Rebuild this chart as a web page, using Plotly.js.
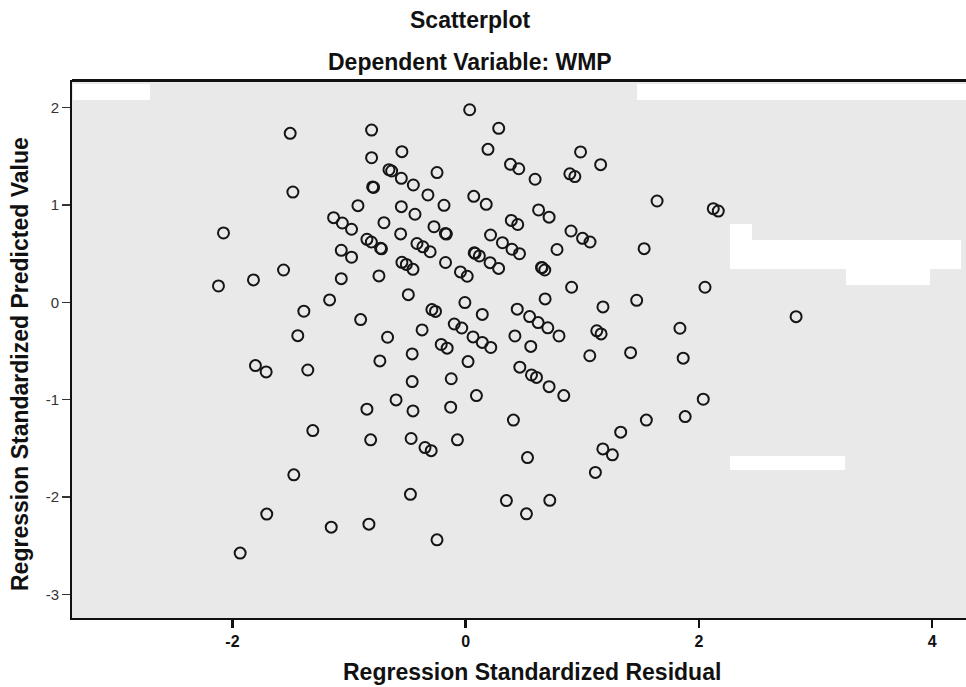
<!DOCTYPE html>
<html>
<head>
<meta charset="utf-8">
<script src="https://cdn.plot.ly/plotly-3.0.1.min.js"></script>
<style>html,body{margin:0;padding:0;background:#fff;}#chart{width:966px;height:687px;}</style>
</head>
<body>
<div id="chart"></div>
<script>
// Regression Standardized Residual (x) and Regression Standardized Predicted Value (y)
const residual = [
  -2.077,-2.120,-1.820,-1.562,-1.505,-1.482,-1.388,-1.440,-1.354,-1.803,-1.711,-1.311,-1.474,-1.706,-1.934,-1.167,-1.153,
  -0.807,-0.807,-0.658,-0.635,-0.547,-0.552,-0.798,-0.790,-0.924,-1.133,-1.058,-0.979,-0.701,-0.552,-0.558,-0.847,-0.809,
  -0.730,-0.722,-1.067,-0.979,-0.547,-0.509,-0.452,-1.067,-0.744,-0.492,-0.901,
  0.034,0.283,0.191,0.384,0.455,0.595,-0.246,-0.449,-0.324,-0.186,0.069,0.176,-0.435,-0.272,-0.174,-0.166,-0.418,-0.367,
  -0.305,0.213,0.315,0.391,0.446,0.397,0.461,0.073,0.080,0.117,0.209,0.282,-0.173,-0.045,0.013,-0.007,-0.290,-0.259,
  0.142,0.442,0.548,0.621,0.704,0.800,-0.098,-0.034,-0.374,
  0.985,1.157,0.893,0.936,1.641,0.625,0.715,0.903,1.002,1.066,0.783,1.530,0.650,0.655,0.678,0.908,0.681,1.466,1.177,
  2.123,2.166,2.052,1.837,2.833,1.124,1.161,1.414,1.064,1.865,2.037,1.549,1.882,1.329,1.176,1.258,1.112,0.721,0.521,
  -0.670,0.063,0.142,0.215,-0.210,-0.159,0.422,0.558,-0.459,0.020,0.464,0.564,0.607,0.715,0.841,-0.736,-0.459,-0.124,
  0.092,-0.597,-0.847,-0.452,-0.129,0.409,-0.815,-0.468,-0.349,-0.296,-0.071,0.530,-0.474,0.349,-0.830,-0.246
];
const predicted = [
  0.711,0.167,0.229,0.331,1.733,1.131,-0.092,-0.343,-0.695,-0.650,-0.715,-1.317,-1.771,-2.174,-2.574,0.024,-2.308,
  1.767,1.483,1.360,1.347,1.545,1.272,1.183,1.178,0.991,0.868,0.813,0.749,0.816,0.981,0.701,0.646,0.618,
  0.554,0.548,0.533,0.462,0.410,0.388,0.338,0.242,0.270,0.078,-0.178,
  1.975,1.785,1.569,1.415,1.370,1.262,1.331,1.203,1.101,0.995,1.087,1.005,0.903,0.775,0.706,0.700,0.603,0.569,
  0.518,0.690,0.611,0.840,0.798,0.544,0.498,0.508,0.502,0.475,0.406,0.347,0.408,0.311,0.267,-0.003,-0.075,-0.094,
  -0.125,-0.071,-0.147,-0.209,-0.262,-0.346,-0.223,-0.264,-0.284,
  1.542,1.412,1.318,1.290,1.039,0.947,0.873,0.731,0.656,0.618,0.541,0.550,0.357,0.355,0.331,0.154,0.034,0.020,-0.048,
  0.960,0.936,0.154,-0.267,-0.148,-0.293,-0.325,-0.517,-0.549,-0.574,-0.995,-1.209,-1.173,-1.333,-1.505,-1.566,-1.746,-2.033,-2.171,
  -0.359,-0.356,-0.412,-0.464,-0.433,-0.471,-0.346,-0.453,-0.530,-0.609,-0.666,-0.746,-0.771,-0.866,-0.958,-0.602,-0.814,-0.785,
  -0.958,-1.002,-1.097,-1.115,-1.077,-1.209,-1.412,-1.398,-1.491,-1.523,-1.412,-1.594,-1.971,-2.035,-2.277,-2.438
];
const xTicks = [-2, 0, 2, 4];
const yTicks = [-3, -2, -1, 0, 1, 2];

const font = "Liberation Sans, Arial, sans-serif";
const trace = {
  x: residual, y: predicted, type: 'scatter', mode: 'markers',
  marker: {symbol: 'circle-open', size: 11, color: '#151515', line: {width: 2, color: '#151515'}},
  hoverinfo: 'x+y'
};
const whiteRect = (x0, x1, y0, y1) => ({type: 'rect', xref: 'paper', yref: 'paper', x0: x0, x1: x1, y0: y0, y1: y1,
  fillcolor: '#ffffff', line: {width: 0}, layer: 'below'});
const W = 894, H = 536; // plot area in px for the patches
const px = v => (v - 72) / W, py = v => (618 - v) / H;
const titleFont = {family: font, size: 23, color: '#111', weight: 'bold'};
const layout = {
  width: 966, height: 687,
  margin: {l: 72, r: 0, t: 82, b: 69},
  paper_bgcolor: '#ffffff', plot_bgcolor: '#e9e9e9',
  showlegend: false,
  font: {family: font, color: '#111'},
  xaxis: {
    range: [-3.376, 4.29], tickvals: xTicks, ticktext: xTicks.map(String),
    showgrid: false, zeroline: false, showline: true, linecolor: '#111', linewidth: 2, mirror: true,
    ticks: 'outside', ticklen: 8, tickwidth: 2.5, tickcolor: '#111',
    tickfont: {family: font, size: 16, color: '#111', weight: 'bold'}
  },
  yaxis: {
    range: [-3.24, 2.26], tickvals: yTicks, ticktext: yTicks.map(String),
    showgrid: false, zeroline: false, showline: true, linecolor: '#111', linewidth: 2, mirror: true,
    ticks: 'outside', ticklen: 8, tickwidth: 1.5, tickcolor: '#333',
    tickfont: {family: font, size: 15, color: '#333'}
  },
  shapes: [
    whiteRect(px(73), px(150), py(100), py(84)),
    whiteRect(px(637), px(966), py(100), py(84)),
    whiteRect(px(730), px(752), py(240), py(224)),
    whiteRect(px(730), px(961), py(269), py(240)),
    whiteRect(px(846), px(930), py(285), py(269)),
    whiteRect(px(730), px(845), py(470), py(456)),
    {type: 'rect', xref: 'paper', yref: 'paper', x0: 0, x1: 1, ysizemode: 'pixel', yanchor: 1, y0: 0, y1: 3,
     fillcolor: '#111', line: {width: 0}, layer: 'above'}
  ],
  annotations: [
    {text: 'Scatterplot', xref: 'paper', yref: 'paper', x: (470 - 72) / W, y: 1, yshift: 62, showarrow: false,
     xanchor: 'center', yanchor: 'middle', font: titleFont},
    {text: 'Dependent Variable: WMP', xref: 'paper', yref: 'paper', x: (470 - 72) / W, y: 1, yshift: 20, showarrow: false,
     xanchor: 'center', yanchor: 'middle', font: titleFont},
    {text: 'Regression Standardized Residual', xref: 'paper', yref: 'paper', x: (532 - 72) / W, y: 0, yshift: -54,
     showarrow: false, xanchor: 'center', yanchor: 'middle', font: titleFont},
    {text: 'Regression Standardized Predicted Value', xref: 'paper', yref: 'paper', x: 0, xshift: -52, y: (618 - 364) / H,
     textangle: -90, showarrow: false, xanchor: 'center', yanchor: 'middle', font: titleFont}
  ]
};
Plotly.newPlot('chart', [trace], layout, {displayModeBar: false, staticPlot: true});
</script>
</body>
</html>
